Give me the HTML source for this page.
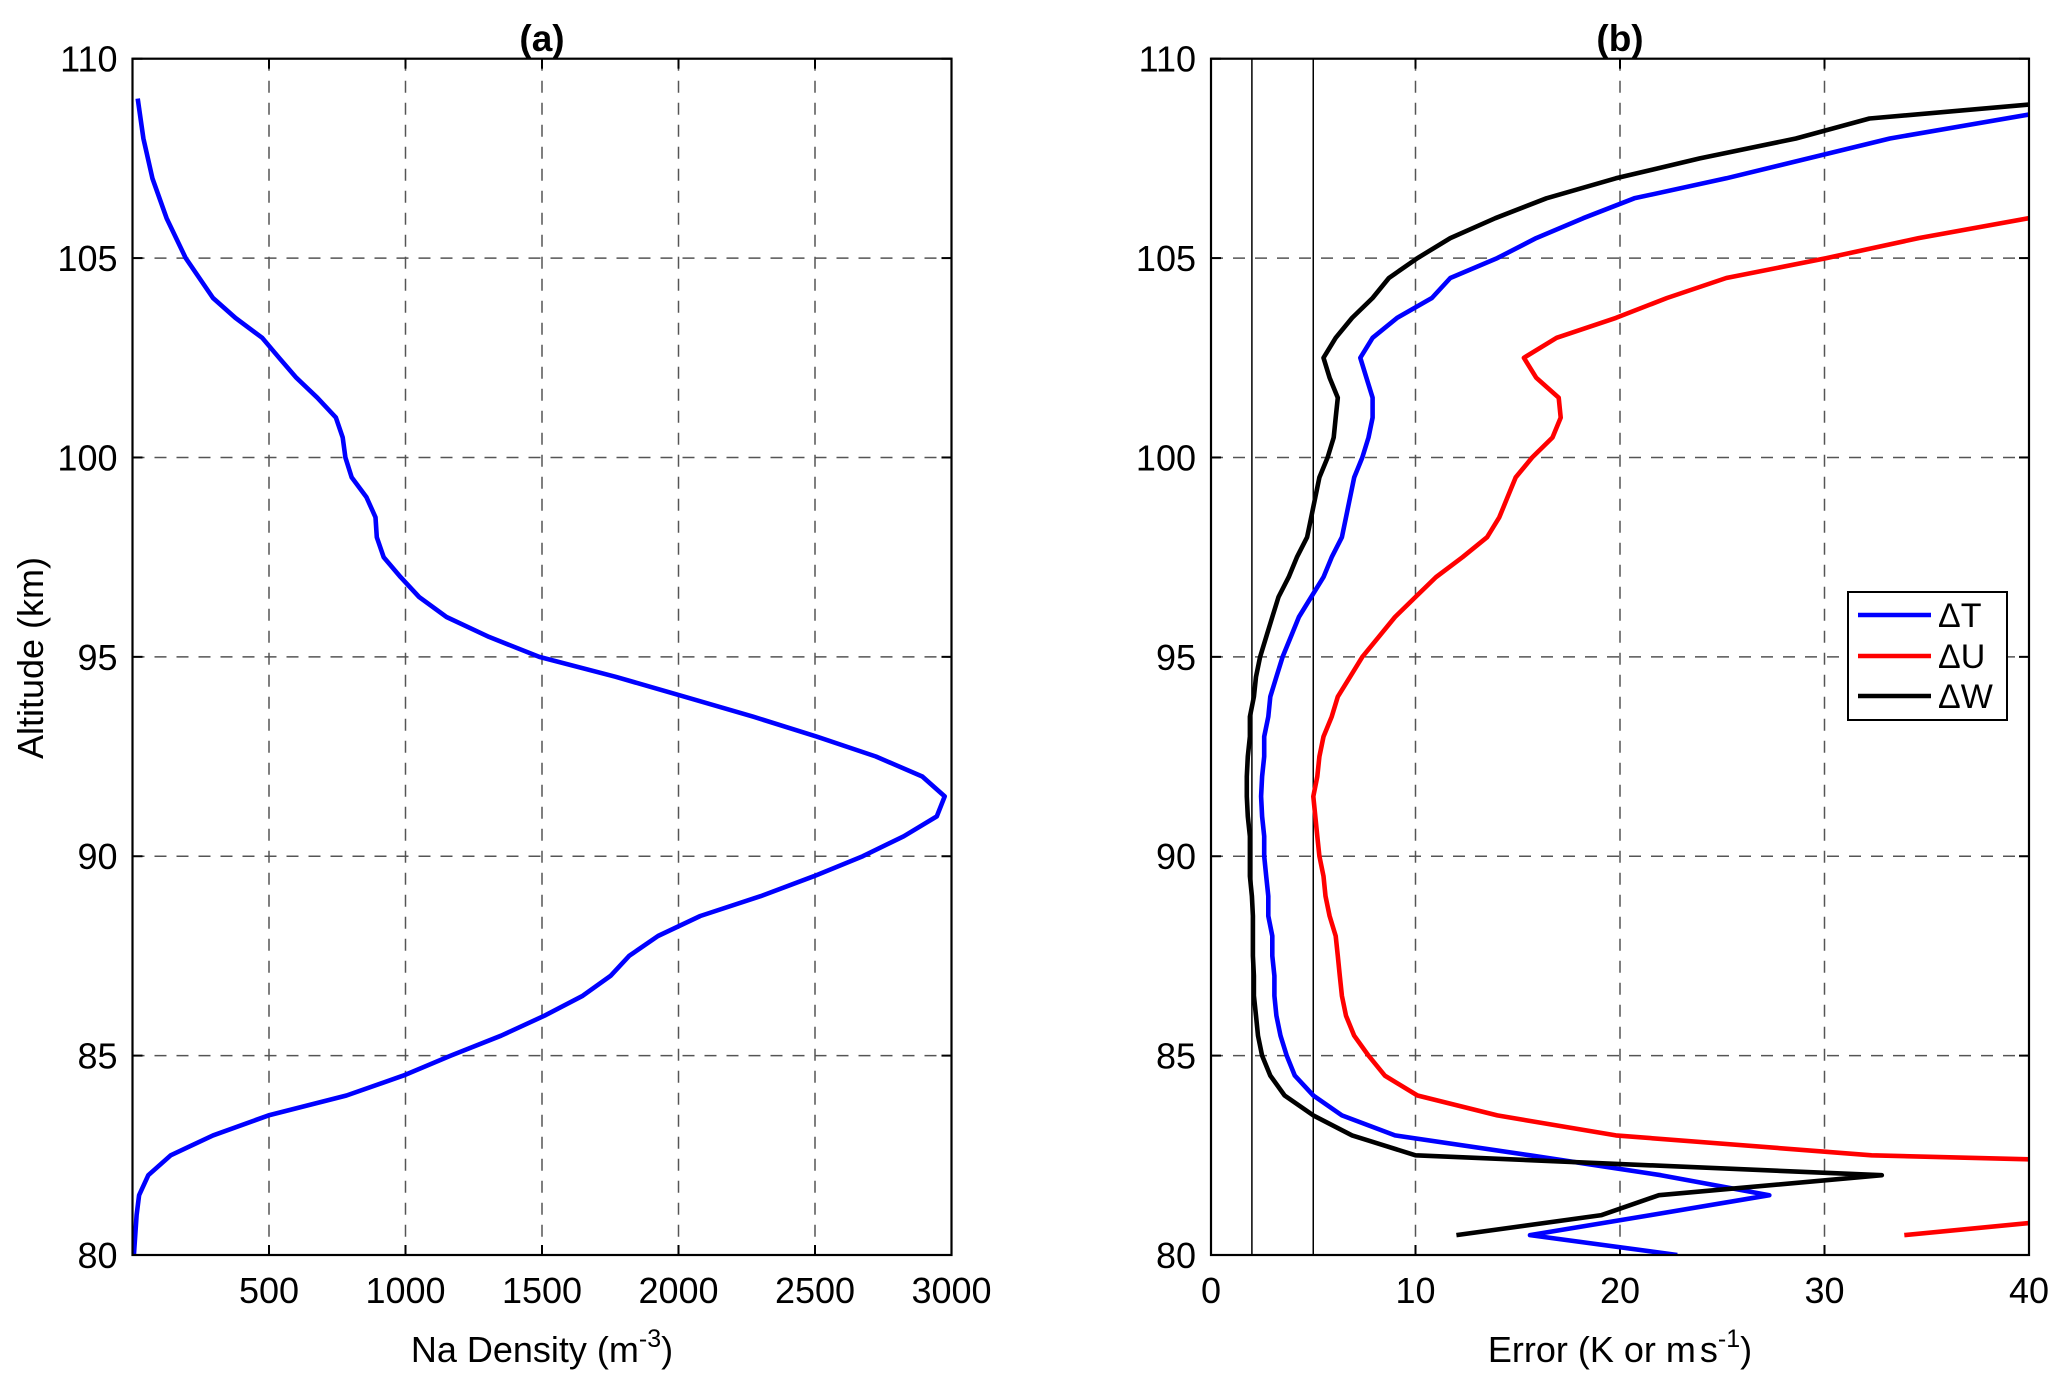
<!DOCTYPE html>
<html><head><meta charset="utf-8"><style>
html,body{margin:0;padding:0;background:#fff;}
svg{display:block;font-family:"Liberation Sans",Arial,sans-serif;}
</style></head><body>
<svg id="fig" width="2067" height="1385" viewBox="0 0 2067 1385" xmlns="http://www.w3.org/2000/svg">
<g id="pa"></g>
<g id="pb"></g>
</svg>
<script>
// Panel (a) data
const naAlt = [109,108,107,106,105,104,103.5,103,102.5,102,101.5,101,100.5,100,99.5,99,98.5,98,97.5,97,96.5,96,95.5,95,94.5,94,93.5,93,92.5,92,91.5,91,90.5,90,89.5,89,88.5,88,87.5,87,86.5,86,85.5,85,84.5,84,83.5,83,82.5,82,81.5,81,80];
const naDensity = [19,40,73,125,195,295,377,475,537,600,677,745,770,780,803,857,890,895,920,982,1050,1150,1306,1490,1770,2022,2274,2506,2723,2893,2975,2946,2825,2675,2496,2302,2080,1925,1819,1751,1649,1509,1350,1166,992,784,498,295,140,58,24,15,5];
const aXTicks = [500,1000,1500,2000,2500,3000];
const yTicks = [80,85,90,95,100,105,110];
// Panel (b) data
const tAlt = [108.6,108,107,106.5,106,105.5,105,104.5,104,103.5,103,102.5,102,101.5,101,100.5,100,99.5,99,98.5,98,97.5,97,96.5,96,95.5,95,94.5,94,93.5,93,92.5,92,91.5,91,90.5,90,89.5,89,88.5,88,87.5,87,86.5,86,85.5,85,84.5,84,83.5,83,82.5,82,81.5,81,80.5,80];
const dT = [40,33.2,25.2,20.7,18.2,15.9,14.0,11.7,10.8,9.1,7.9,7.3,7.6,7.9,7.9,7.7,7.4,7.0,6.8,6.6,6.4,5.9,5.5,4.9,4.3,3.9,3.5,3.2,2.9,2.8,2.6,2.6,2.5,2.45,2.5,2.6,2.6,2.7,2.8,2.8,3.0,3.0,3.1,3.1,3.2,3.4,3.7,4.1,5.0,6.4,9.0,15.6,22.0,27.3,21.5,15.6,22.8];
const uAlt = [106,105.5,105,104.5,104,103.5,103,102.5,102,101.5,101,100.5,100,99.5,99,98.5,98,97.5,97,96.5,96,95.5,95,94.5,94,93.5,93,92.5,92,91.5,91,90.5,90,89.5,89,88.5,88,87.5,87,86.5,86,85.5,85,84.5,84,83.5,83,82.5,82.4,null,80.5,80.8];
const dU = [40,34.6,30.1,25.2,22.3,19.8,16.9,15.3,15.9,17.0,17.1,16.7,15.7,14.9,14.5,14.1,13.5,12.3,11.0,10.0,9.0,8.2,7.4,6.8,6.2,5.9,5.5,5.3,5.2,5.0,5.1,5.2,5.3,5.5,5.6,5.8,6.1,6.2,6.3,6.4,6.6,7.0,7.7,8.5,10.1,14.0,19.8,32.3,40,null,33.9,40];
const wAlt = [108.85,108.5,108,107.5,107,106.5,106,105.5,105,104.5,104,103.5,103,102.5,102,101.5,101,100.5,100,99.5,99,98.5,98,97.5,97,96.5,96,95.5,95,94.5,94,93.5,93,92.5,92,91.5,91,90.5,90,89.5,89,88.5,88,87.5,87,86.5,86,85.5,85,84.5,84,83.5,83,82.5,82,81.5,81,80.5];
const dW = [40,32.2,28.6,23.9,19.8,16.4,13.9,11.7,10.1,8.7,7.9,6.9,6.1,5.5,5.8,6.2,6.1,6.0,5.7,5.3,5.1,4.9,4.7,4.2,3.8,3.3,3.0,2.7,2.4,2.2,2.1,1.9,1.9,1.8,1.75,1.75,1.8,1.9,1.9,1.9,2.0,2.05,2.05,2.05,2.1,2.1,2.2,2.3,2.5,2.9,3.6,5.0,6.9,10.0,32.8,21.9,19.1,12.0];
const bXTicks = [0,10,20,30,40];
const refLines = [2,5];

const NS='http://www.w3.org/2000/svg';
const TOP=58.7, BOT=1255;
const yScale = v => BOT - (v-80)/30*(BOT-TOP);
function mk(parent, tag, attrs, text){
  const e=document.createElementNS(NS,tag);
  for(const k in attrs) e.setAttribute(k,attrs[k]);
  if(text!==undefined) e.textContent=text;
  parent.appendChild(e); return e;
}
function panel(g, L, R, xmin, xmax, xTicks, gridX, title, xlabelHTML, ylab){
  const xs = v => L + (v-xmin)/(xmax-xmin)*(R-L);
  const grid=mk(g,'g',{});
  
  
  gridX.forEach(v=>{ mk(grid,'line',{x1:xs(v),x2:xs(v),y1:TOP,y2:BOT,stroke:'#555','stroke-width':1.5,'stroke-dasharray':'12,10'}); });
  [85,90,95,100,105].forEach(v=>{ mk(grid,'line',{x1:L,x2:R,y1:yScale(v),y2:yScale(v),stroke:'#555','stroke-width':1.5,'stroke-dasharray':'12,10'}); });
  const ticks=mk(g,'g',{});
  
  
  xTicks.forEach(v=>{
    mk(ticks,'line',{x1:xs(v),x2:xs(v),y1:BOT,y2:BOT-10,stroke:'#000','stroke-width':2});
    mk(ticks,'line',{x1:xs(v),x2:xs(v),y1:TOP,y2:TOP+10,stroke:'#000','stroke-width':2});
    const t=mk(ticks,'text',{x:xs(v),y:1303,'font-size':36,'text-anchor':'middle'},String(v));
    
    
  });
  yTicks.forEach(v=>{
    mk(ticks,'line',{x1:L,x2:L+10,y1:yScale(v),y2:yScale(v),stroke:'#000','stroke-width':2});
    mk(ticks,'line',{x1:R,x2:R-10,y1:yScale(v),y2:yScale(v),stroke:'#000','stroke-width':2});
    const t=mk(ticks,'text',{x:L-15,y:yScale(v)+13,'font-size':36,'text-anchor':'end'},String(v));
    
    
  });
  const tt=mk(g,'text',{x:(L+R)/2,y:51,'font-size':37,'font-weight':'bold','text-anchor':'middle'},title);
  
  
  const xl=mk(g,'text',{x:(L+R)/2,y:1362,'font-size':36,'text-anchor':'middle'});
  xl.innerHTML=xlabelHTML;
  
  
  if(ylab){
    const yl=mk(g,'text',{x:0,y:0,'font-size':36,'text-anchor':'middle',transform:'translate(43,658) rotate(-90)'},ylab);
    
    
  }
  return xs;
}
function series(g, xs, xv, yv, color, name, L, R){
  const cp='clip-'+name;
  const defs=mk(g,'defs',{});
  const c=mk(defs,'clipPath',{id:cp});
  mk(c,'rect',{x:L,y:TOP,width:R-L,height:BOT-TOP});
  let d='', pen=false;
  for(let i=0;i<xv.length;i++){
    if(xv[i]===null||yv[i]===null){pen=false;continue;}
    d+=(pen?'L':'M')+xs(xv[i]).toFixed(1)+','+yScale(yv[i]).toFixed(1);
    pen=true;
  }
  const p=mk(g,'path',{d:d,fill:'none',stroke:color,'stroke-width':4.6,'stroke-linejoin':'round','clip-path':'url(#'+cp+')'});
  
  
}
// Panel a
const ga=document.getElementById('pa');
const LA=132.5, RA=951.5;
const xa=panel(ga,LA,RA,0,3000,aXTicks,[500,1000,1500,2000,2500],'(a)','Na Density (m<tspan font-size="25" dy="-15">-3</tspan><tspan dy="15">)</tspan>','Altitude (km)');
series(ga,xa,naDensity,naAlt,'#0000ff','na-density-line',LA,RA);
mk(ga,'rect',{x:LA,y:TOP,width:RA-LA,height:BOT-TOP,fill:'none',stroke:'#000','stroke-width':2.2});
// Panel b
const gb=document.getElementById('pb');
const LB=1211, RB=2029;
const xb=panel(gb,LB,RB,0,40,bXTicks,[10,20,30],'(b)','Error (K or m<tspan dx="4">s</tspan><tspan font-size="25" dy="-15">-1</tspan><tspan dy="15">)</tspan>',null);
refLines.forEach(v=>{
  const l=mk(gb,'line',{x1:xb(v),x2:xb(v),y1:TOP,y2:BOT,stroke:'#000','stroke-width':1.5});
  
  
});
series(gb,xb,dT,tAlt,'#0000ff','delta-t-line',LB,RB);
series(gb,xb,dU,uAlt,'#ff0000','delta-u-line',LB,RB);
series(gb,xb,dW,wAlt,'#000000','delta-w-line',LB,RB);
mk(gb,'rect',{x:LB,y:TOP,width:RB-LB,height:BOT-TOP,fill:'none',stroke:'#000','stroke-width':2.2});
// Legend
const lg=mk(gb,'g',{});


mk(lg,'rect',{x:1848,y:592,width:159,height:128,fill:'#fff',stroke:'#000','stroke-width':2});
[['ΔT','#0000ff',615],['ΔU','#ff0000',656],['ΔW','#000000',696]].forEach(e=>{
  const it=mk(lg,'g',{});
  
  
  mk(it,'line',{x1:1858,x2:1931,y1:e[2],y2:e[2],stroke:e[1],'stroke-width':4.6});
  mk(it,'text',{x:1938,y:e[2]+12,'font-size':34},e[0]);
});
</script>
</body></html>
